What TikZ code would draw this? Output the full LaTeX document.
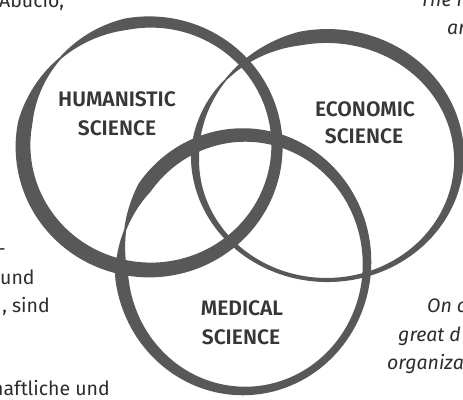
\documentclass[tikz,border=0pt]{standalone}
\usepackage{fontspec}
\setmainfont{Fira Sans}
\newfontfamily\labelfont{Fira Sans}[UprightFont={* SemiBold}]
\definecolor{ink}{RGB}{88,88,88}
\definecolor{lab}{RGB}{55,55,55}
\definecolor{txt}{RGB}{45,45,45}
\def\taper{40}
% cx cy rx ry base amp phi start end
\newcommand{\brushring}[9]{%
  \fill[ink] plot[domain=#8:#9,samples=260]
    ({#1+(#3+0.5*(#5+#6*cos(\x-#7))*min(1,0.15+(\x-#8)/\taper,0.15+(#9-\x)/\taper))*cos(\x)},
     {#2+(#4+0.5*(#5+#6*cos(\x-#7))*min(1,0.15+(\x-#8)/\taper,0.15+(#9-\x)/\taper))*sin(\x)})
   -- plot[domain=#9:#8,samples=260]
    ({#1+(#3-0.5*(#5+#6*cos(\x-#7))*min(1,0.15+(\x-#8)/\taper,0.15+(#9-\x)/\taper))*cos(\x)},
     {#2+(#4-0.5*(#5+#6*cos(\x-#7))*min(1,0.15+(\x-#8)/\taper,0.15+(#9-\x)/\taper))*sin(\x)})
   -- cycle;}
\begin{document}
\begin{tikzpicture}[x=1pt,y=1pt,
  lbl/.style={font=\labelfont\fontsize{21}{21}\selectfont, text=lab, anchor=base, inner sep=0pt},
  body/.style={font=\fontsize{19.5}{28}\selectfont, text=txt, inner sep=0pt},
  ital/.style={font=\itshape\fontsize{19.5}{28}\selectfont, text=txt, inner sep=0pt, anchor=base west}]
\fill[white] (0,0) rectangle (463,399);
\clip (0,0) rectangle (463,399);
% rings
\def\taper{40}
\brushring{150}{253}{127}{124}{13}{2.5}{225}{135}{495}
\def\taper{45}
\brushring{327}{241}{132}{122}{9}{5}{80}{140}{500}
\def\taper{25}
\brushring{244}{136}{123}{128}{11}{3.5}{135}{165}{525}
% labels
\node[lbl] (hum1) at (117,292) {HUMANISTIC};
\node[lbl] (hum2) at (117,263) {SCIENCE};
\node[lbl] (eco1) at (365,282) {ECONOMIC};
\node[lbl] (eco2) at (364,255) {SCIENCE};
\node[lbl] (med1) at (242,83) {MEDICAL};
\node[lbl] (med2) at (241,55) {SCIENCE};
% left text fragments
\node[body, anchor=base west] (tl) at (-1,391) {Abucio,};
\node[body, anchor=base east] (l1) at (6,143) {-};
\node[body, anchor=base west] (l2) at (0,114) {und};
\node[body, anchor=base east] (l3) at (50,86) {, sind};
\node[body, anchor=base east] (l4) at (110,4) {haftliche und};
% right text fragments
\node[ital] (r1) at (420,392) {The r};
\node[ital] (r2) at (447,364) {ar};
\node[ital] (r3) at (427,86) {On c};
\node[ital] (r4) at (398,58) {great d};
\node[ital] (r5) at (387,30) {organiza};
\end{tikzpicture}
\end{document}
